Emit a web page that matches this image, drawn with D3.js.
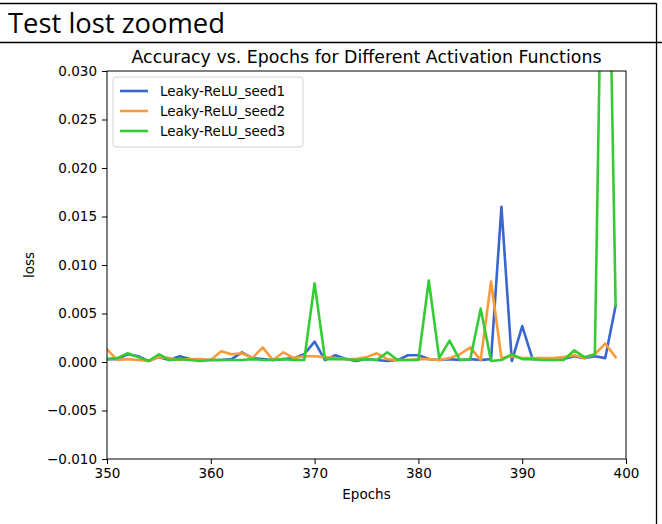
<!DOCTYPE html>
<html>
<head>
<meta charset="utf-8">
<script src="https://cdn.jsdelivr.net/npm/d3@7"></script>
<style>
  html, body { margin: 0; padding: 0; background: #fff; }
  svg { display: block; }
</style>
</head>
<body>
<svg id="chart" width="662" height="524"></svg>
<script>
// Epochs 350..399
const epochs = d3.range(350, 400);

const seed1 = [
  0.0003, 0.0003, 0.0008, 0.0006, 0.0001, 0.0005, 0.0002, 0.0006, 0.0003, 0.0002,
  0.0002, 0.0002, 0.0003, 0.0010, 0.0004, 0.0003, 0.0002, 0.0003, 0.0004, 0.0008,
  0.0021, 0.0002, 0.0007, 0.0003, 0.0001, 0.0003, 0.0002, 0.0001, 0.0002, 0.0007,
  0.0007, 0.0003, 0.0002, 0.0003, 0.0002, 0.0003, 0.0002, 0.0003, 0.0160, 0.0001,
  0.0037, 0.0003, 0.0003, 0.0002, 0.0003, 0.0006, 0.0004, 0.0006, 0.0004, 0.0058
];
const seed2 = [
  0.0013, 0.0002, 0.0003, 0.0002, 0.0001, 0.0005, 0.0004, 0.0002, 0.0003, 0.0003,
  0.0002, 0.0011, 0.0008, 0.0009, 0.0004, 0.0015, 0.0002, 0.0010, 0.0004, 0.0006,
  0.0006, 0.0005, 0.0004, 0.0003, 0.0003, 0.0005, 0.0009, 0.0003, 0.0002, 0.0002,
  0.0003, 0.0003, 0.0002, 0.0004, 0.0008, 0.0015, 0.0002, 0.0083, 0.0004, 0.0006,
  0.0004, 0.0004, 0.0004, 0.0004, 0.0005, 0.0007, 0.0004, 0.0008, 0.0019, 0.0005
];
const seed3 = [
  0.0003, 0.0004, 0.0009, 0.0005, 0.0001, 0.0008, 0.0002, 0.0003, 0.0002, 0.0001,
  0.0002, 0.0002, 0.0002, 0.0002, 0.0003, 0.0002, 0.0002, 0.0003, 0.0002, 0.0002,
  0.0081, 0.0003, 0.0003, 0.0003, 0.0002, 0.0003, 0.0002, 0.0010, 0.0002, 0.0002,
  0.0002, 0.0084, 0.0004, 0.0022, 0.0002, 0.0003, 0.0055, 0.0001, 0.0002, 0.0008,
  0.0003, 0.0003, 0.0002, 0.0002, 0.0002, 0.0012, 0.0005, 0.0008, 0.0670, 0.0058
];

const seriesNames = ["Leaky-ReLU_seed1", "Leaky-ReLU_seed2", "Leaky-ReLU_seed3"];
const seriesValues = [seed1, seed2, seed3];
const seriesColors = ["#3a66cf", "#fd9a3a", "#33cc33"];

const xTicks = [350, 360, 370, 380, 390, 400];
const yTicks = [-0.010, -0.005, 0.000, 0.005, 0.010, 0.015, 0.020, 0.025, 0.030];

const headerText = "Test lost zoomed";
const titleText = "Accuracy vs. Epochs for Different Activation Functions";
const xLabel = "Epochs";
const yLabel = "loss";

const svg = d3.select("#chart");

// Header cell frame
const frame = svg.append("g").attr("stroke", "#000").attr("stroke-width", 1.3).attr("fill", "none");
frame.append("line").attr("x1", 0).attr("x2", 656).attr("y1", 3.5).attr("y2", 3.5);
frame.append("line").attr("x1", 0).attr("x2", 662).attr("y1", 42.5).attr("y2", 42.5);
frame.append("line").attr("x1", 656.5).attr("x2", 656.5).attr("y1", 3).attr("y2", 524);

svg.append("text")
  .attr("x", 8).attr("y", 33)
  .attr("font-family", "'Open Sans', Lato, sans-serif")
  .attr("font-size", 27.5)
  .attr("textLength", 217)
  .attr("lengthAdjust", "spacingAndGlyphs")
  .attr("fill", "#000")
  .text(headerText);

// Plot area
const m = { left: 107, right: 626, top: 71, bottom: 459 };
const x = d3.scaleLinear().domain([350, 400]).range([m.left, m.right]);
const y = d3.scaleLinear().domain([-0.010, 0.030]).range([m.bottom, m.top]);

const font = "'DejaVu Sans', sans-serif";

svg.append("defs").append("clipPath").attr("id", "plotclip")
  .append("rect")
  .attr("x", m.left).attr("y", m.top)
  .attr("width", m.right - m.left).attr("height", m.bottom - m.top);

// Lines
const line = d3.line().x((d, i) => x(epochs[i])).y(d => y(d));
const linesG = svg.append("g").attr("clip-path", "url(#plotclip)");
seriesValues.forEach((vals, k) => {
  linesG.append("path")
    .datum(vals)
    .attr("d", line)
    .attr("fill", "none")
    .attr("stroke", seriesColors[k])
    .attr("stroke-width", 2.6)
    .attr("stroke-linejoin", "round")
    .attr("stroke-linecap", "square");
});

// Axes
const fmtY = v => d3.format(".3f")(v).replace("-", "\u2212");
const xAxis = svg.append("g")
  .attr("transform", `translate(0,${m.bottom})`)
  .call(d3.axisBottom(x).tickValues(xTicks).tickFormat(d3.format("d")).tickSize(5).tickPadding(4));
const yAxis = svg.append("g")
  .attr("transform", `translate(${m.left},0)`)
  .call(d3.axisLeft(y).tickValues(yTicks).tickFormat(fmtY).tickSize(5).tickPadding(5));

[xAxis, yAxis].forEach(g => {
  g.select(".domain").remove();
  g.selectAll("line").attr("stroke", "#000").attr("stroke-width", 1);
  g.selectAll("text").attr("font-family", font).attr("font-size", 13.5).attr("fill", "#000");
});

// Frame
svg.append("rect")
  .attr("x", m.left).attr("y", m.top)
  .attr("width", m.right - m.left).attr("height", m.bottom - m.top)
  .attr("fill", "none").attr("stroke", "#000").attr("stroke-width", 1);

// Title and axis labels
svg.append("text")
  .attr("x", (m.left + m.right) / 2).attr("y", 63)
  .attr("text-anchor", "middle")
  .attr("font-family", font).attr("font-size", 17.4)
  .attr("fill", "#000")
  .text(titleText);

svg.append("text")
  .attr("x", (m.left + m.right) / 2).attr("y", 499)
  .attr("text-anchor", "middle")
  .attr("font-family", font).attr("font-size", 13.5)
  .attr("fill", "#000")
  .text(xLabel);

svg.append("text")
  .attr("transform", `translate(34,${(m.top + m.bottom) / 2}) rotate(-90)`)
  .attr("text-anchor", "middle")
  .attr("font-family", font).attr("font-size", 13.5)
  .attr("fill", "#000")
  .text(yLabel);

// Legend
const legend = svg.append("g").attr("transform", "translate(113,77)");
legend.append("rect")
  .attr("x", 0).attr("y", 0).attr("width", 190).attr("height", 70)
  .attr("rx", 3)
  .attr("fill", "#fff").attr("fill-opacity", 0.8)
  .attr("stroke", "#d0d0d0").attr("stroke-width", 1);
seriesNames.forEach((name, k) => {
  const ly = 14 + k * 20;
  legend.append("line")
    .attr("x1", 7).attr("x2", 35).attr("y1", ly).attr("y2", ly)
    .attr("stroke", seriesColors[k]).attr("stroke-width", 2.6);
  legend.append("text")
    .attr("x", 47).attr("y", ly)
    .attr("dy", "0.35em")
    .attr("font-family", font).attr("font-size", 13.5)
    .attr("fill", "#000")
    .text(name);
});
</script>
</body>
</html>
